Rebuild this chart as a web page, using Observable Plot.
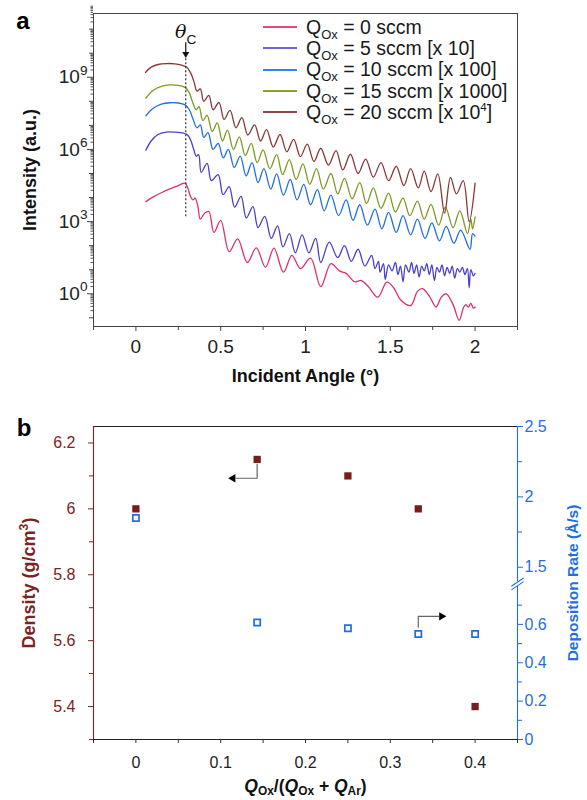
<!DOCTYPE html>
<html><head><meta charset="utf-8">
<script src="https://cdn.jsdelivr.net/npm/d3@7"></script>
<script src="https://cdn.jsdelivr.net/npm/@observablehq/plot@0.6"></script>
<style>
body{margin:0;background:#fff;font-family:Arial,"Liberation Sans",sans-serif;}
#wrap{position:relative;width:587px;height:800px;}
#legend{position:absolute;left:263px;top:16.6px;font-size:19.5px;color:#1a1a1a;}
.row{height:21px;display:flex;align-items:center;white-space:nowrap;margin-bottom:0.35px;}
.sw{width:34px;height:2px;margin-right:9px;flex:none;}
.row sub{font-size:13px;vertical-align:-5px;line-height:0}
.row sup{font-size:11.5px;vertical-align:8px;line-height:0}
svg{display:block}
</style></head><body>
<div id="wrap"><div id="a"></div><div id="legend"></div><div id="b"></div></div>
<script>
// ---------- Panel a data: [angle (deg), log10 intensity (a.u.)] ----------
const seriesNames = ["0 sccm", "5 sccm", "10 sccm", "15 sccm", "20 sccm"];
const legendLabels = ["Q<sub>Ox</sub> = 0 sccm", "Q<sub>Ox</sub> = 5 sccm [x 10]", "Q<sub>Ox</sub> = 10 sccm [x 100]", "Q<sub>Ox</sub> = 15 sccm [x 1000]", "Q<sub>Ox</sub> = 20 sccm [x 10<sup>4</sup>]"];
const seriesColors = ["#e0306a", "#4a3fcf", "#1f6fe0", "#7a9a22", "#8b3636"];
const legendColors = ["#e4487c", "#6c66dc", "#3a80e6", "#86a236", "#924545"];

const curveQ0 = [[0.059,3.83],[0.1,4.02],[0.15,4.2],[0.2,4.36],[0.25,4.5],[0.29,4.6],[0.305,4.42],[0.32,4.08],[0.335,3.9],[0.35,3.97],[0.365,3.65],[0.38,3.1],[0.405,3.35],[0.43,3.42],[0.46,2.55],[0.5,3.05],[0.55,1.75],[0.6,2.28],[0.657,1.3],[0.71,1.91],[0.764,1.1],[0.814,1.9],[0.87,0.9],[0.92,1.6],[0.97,1.05],[1.03,1.48],[1.09,0.3],[1.15,1.25],[1.2,0.95],[1.24,0.85],[1.29,0.5],[1.33,0.55],[1.37,0.3],[1.426,-0.14],[1.48,0.48],[1.52,0.25],[1.56,-0.25],[1.62,-0.49],[1.66,0.1],[1.69,0.21],[1.73,-0.1],[1.77,-0.55],[1.8,-0.15],[1.83,0.0],[1.87,-0.45],[1.906,-1.1],[1.93,-0.6],[1.945,-0.45],[1.96,-0.55],[1.975,-0.4],[1.99,-0.6],[2.0,-0.55]];

const curveQ5 = [[0.059,5.97],[0.09,6.35],[0.13,6.62],[0.18,6.72],[0.23,6.72],[0.28,6.68],[0.305,6.6],[0.325,6.35],[0.342,5.98],[0.355,5.72],[0.37,5.78],[0.385,5.05],[0.42,5.42],[0.445,4.7],[0.485,4.95],[0.514,4.12],[0.55,4.45],[0.582,3.6],[0.62,4.05],[0.651,3.15],[0.69,3.62],[0.72,2.75],[0.76,3.22],[0.798,2.3],[0.835,2.82],[0.867,1.95],[0.905,2.5],[0.94,1.7],[0.98,2.45],[1.02,1.7],[1.06,2.3],[1.09,1.3],[1.14,2.15],[1.19,1.5],[1.23,2.0],[1.27,1.35],[1.31,1.85],[1.35,1.15],[1.39,1.6],[1.41,1.05],[1.43,1.35],[1.44,0.9],[1.46,1.25],[1.47,0.6],[1.49,1.2],[1.51,0.95],[1.53,1.3],[1.545,0.8],[1.56,1.15],[1.575,0.5],[1.59,1.2],[1.61,0.9],[1.625,1.3],[1.64,0.85],[1.655,1.2],[1.67,0.7],[1.685,1.15],[1.7,0.95],[1.715,1.25],[1.73,0.8],[1.745,1.2],[1.76,0.55],[1.775,1.1],[1.79,0.9],[1.805,1.2],[1.82,0.75],[1.835,1.1],[1.85,0.85],[1.865,1.15],[1.88,0.65],[1.895,1.05],[1.91,0.9],[1.925,1.1],[1.94,0.8],[1.955,1.05],[1.965,0.25],[1.975,1.0],[1.99,0.75],[2.0,0.85]];

const curveQ10 = [[0.059,7.4],[0.1,7.7],[0.15,7.88],[0.2,7.94],[0.25,7.93],[0.29,7.85],[0.315,7.65],[0.335,7.3],[0.36,6.9],[0.38,7.02],[0.4,6.5],[0.425,6.7],[0.455,6.0],[0.485,6.25],[0.515,5.65],[0.545,6.0],[0.58,5.25],[0.615,5.72],[0.65,4.9],[0.685,5.45],[0.72,4.62],[0.755,5.2],[0.795,4.35],[0.83,4.98],[0.87,4.1],[0.91,4.75],[0.95,3.9],[0.99,4.55],[1.03,3.7],[1.07,4.33],[1.11,3.45],[1.15,4.1],[1.195,3.25],[1.24,3.9],[1.28,3.05],[1.32,3.7],[1.365,2.85],[1.41,3.52],[1.45,2.7],[1.49,3.38],[1.535,2.55],[1.575,3.25],[1.62,2.45],[1.66,3.1],[1.705,2.3],[1.745,2.95],[1.79,2.2],[1.83,2.8],[1.875,2.1],[1.915,2.65],[1.97,1.85],[1.985,2.5],[2.0,2.4]];

const curveQ15 = [[0.059,8.13],[0.1,8.45],[0.15,8.62],[0.2,8.68],[0.25,8.66],[0.29,8.58],[0.315,8.35],[0.335,7.95],[0.355,7.65],[0.372,7.78],[0.395,7.2],[0.42,7.42],[0.45,6.75],[0.48,7.1],[0.51,6.35],[0.54,6.8],[0.575,6.0],[0.61,6.52],[0.645,5.75],[0.68,6.25],[0.715,5.45],[0.75,5.98],[0.79,5.2],[0.83,5.78],[0.865,4.95],[0.905,5.58],[0.945,4.75],[0.985,5.4],[1.025,4.55],[1.065,5.2],[1.105,4.35],[1.15,5.0],[1.19,4.15],[1.23,4.8],[1.275,3.95],[1.32,4.62],[1.36,3.75],[1.4,4.4],[1.445,3.55],[1.49,4.18],[1.53,3.4],[1.575,3.98],[1.615,3.25],[1.66,3.85],[1.7,3.1],[1.74,3.72],[1.785,2.85],[1.825,3.6],[1.87,2.75],[1.91,3.45],[1.955,2.5],[1.975,3.1],[1.985,2.7],[2.0,3.2]];

const curveQ20 = [[0.057,9.2],[0.09,9.42],[0.13,9.53],[0.18,9.57],[0.23,9.56],[0.27,9.5],[0.3,9.42],[0.325,9.15],[0.345,8.75],[0.36,8.42],[0.38,8.52],[0.4,8.0],[0.43,8.25],[0.455,7.65],[0.49,7.95],[0.52,7.25],[0.555,7.62],[0.59,6.9],[0.625,7.32],[0.66,6.6],[0.7,7.02],[0.735,6.35],[0.77,6.82],[0.81,6.1],[0.85,6.62],[0.89,5.9],[0.93,6.42],[0.97,5.7],[1.01,6.22],[1.05,5.5],[1.09,6.05],[1.135,5.35],[1.18,5.95],[1.22,5.15],[1.265,5.8],[1.31,5.0],[1.355,5.6],[1.4,4.85],[1.445,5.45],[1.49,4.7],[1.535,5.3],[1.58,4.5],[1.62,5.2],[1.665,4.4],[1.7,5.1],[1.74,4.25],[1.78,4.98],[1.82,3.35],[1.855,4.84],[1.89,4.15],[1.93,4.7],[1.965,3.0],[2.0,4.6]];

const curvesA = [curveQ0, curveQ5, curveQ10, curveQ15, curveQ20];

// Axes of panel a
const xDomainA = [-0.25, 2.25];
const yLogDomainA = [-1.36, 11.65];
const xTicksA = [0, 0.5, 1, 1.5, 2];
const xTickLabelsA = ["0", "0.5", "1", "1.5", "2"];
const xMinorA = [-0.25, 0.25, 0.75, 1.25, 1.75, 2.25];
const yMajorExpA = [0, 3, 6, 9];
const yDecadesA = [-1, 0, 1, 2, 3, 4, 5, 6, 7, 8, 9, 10, 11];
// Critical angle annotation
const thetaC = 0.294;
const thetaCLineLog = [3.2, 9.95];
const thetaCArrowLog = [10.45, 10.05];
const thetaCLabelLog = 10.88;

// ---------- Panel b data ----------
const oxFraction = [0, 0.143, 0.25, 0.333, 0.4];
const density = [6.0, 6.15, 6.1, 6.0, 5.4];
const depositionRate = [1.85, 0.61, 0.58, 0.55, 0.55];

const xDomainB = [-0.05, 0.45];
const yDomainB = [5.3, 6.25];
const xTicksB = [0, 0.1, 0.2, 0.3, 0.4];
const xTickLabelsB = ["0", "0.1", "0.2", "0.3", "0.4"];
const xMinorB = [-0.05, 0.05, 0.15, 0.25, 0.35, 0.45];
const yTicksB = [5.4, 5.6, 5.8, 6.0, 6.2];
const yTickLabelsB = ["5.4", "5.6", "5.8", "6", "6.2"];
const yMinorB = [5.3, 5.5, 5.7, 5.9, 6.1];
const rateTicks = [0, 0.2, 0.4, 0.6, 1.5, 2, 2.5];
const rateTickLabels = ["0", "0.2", "0.4", "0.6", "1.5", "2", "2.5"];
const rateMinor = [0.1, 0.3, 0.5, 0.7, 1.75, 2.25];
// broken right axis: lower segment 0..0.8, upper segment 1.4..2.5
const rateLowerSlope = 0.613;   // fraction of axis height per Å/s
const rateUpperAt15 = 0.5504;   // fraction where 1.5 Å/s sits
const rateUpperSlope = 0.4496;
const rateBreakFrac = 0.497;
// arrows (x, value on its own axis)
const densityArrow = [[0.143, 6.135], [0.143, 6.093], [0.118, 6.093]];
const densityArrowHead = [0.1145, 6.093];
const rateArrow = [[0.333, 0.585], [0.333, 0.642], [0.357, 0.642]];
const rateArrowHead = [0.3605, 0.642];

const FONT = "Arial, 'Liberation Sans', sans-serif";
const DARK = "#222";
const BROWN = "#7b2424";
const BLUE = "#1f6fe0";

// ---------- helpers ----------
function richify(root, subShift = 0.25, supShift = 0.42, small = 0.7) {
  root.querySelectorAll("text").forEach(t => {
    const s = t.textContent;
    if (!/[_^]\{|\*/.test(s)) return;
    const fs = parseFloat(getComputedStyle(t).fontSize) || 16;
    while (t.firstChild) t.removeChild(t.firstChild);
    const re = /_\{([^}]*)\}|\^\{([^}]*)\}|\*([^*]*)\*|([^_^*]+)/g;
    let m, shift = 0;
    while ((m = re.exec(s))) {
      const sp = document.createElementNS("http://www.w3.org/2000/svg", "tspan");
      let target = 0, txt, isSmall = false, italic = false;
      if (m[1] !== undefined) { txt = m[1]; target = subShift * fs; isSmall = true; }
      else if (m[2] !== undefined) { txt = m[2]; target = -supShift * fs; isSmall = true; }
      else if (m[3] !== undefined) { txt = m[3]; italic = true; }
      else txt = m[4];
      sp.textContent = txt;
      if (target !== shift) { sp.setAttribute("dy", target - shift); shift = target; }
      if (isSmall) sp.setAttribute("font-size", (small * fs) + "px");
      if (italic) sp.setAttribute("font-style", "italic");
      t.appendChild(sp);
    }
  });
}

// ---------- Panel a ----------
const rowsA = [];
curvesA.forEach((c, i) => c.forEach(p => rowsA.push({series: seriesNames[i], angle: p[0], intensity: Math.pow(10, p[1])})));
const yMinorA = [];
yDecadesA.forEach(k => { for (let j = 2; j <= 9; j++) yMinorA.push(j * Math.pow(10, k)); });
const yMidA = yDecadesA.filter(k => !yMajorExpA.includes(k)).map(k => Math.pow(10, k));
const yMajorA = yMajorExpA.map(k => Math.pow(10, k));
const xLabA = new Map(xTicksA.map((v, i) => [v, xTickLabelsA[i]]));

const plotA = Plot.plot({
  width: 587, height: 395,
  marginLeft: 93, marginRight: 70, marginTop: 13, marginBottom: 69,
  style: {fontFamily: FONT, fontSize: "19px", color: DARK, background: "#fff"},
  x: {domain: xDomainA},
  y: {type: "log", domain: yLogDomainA.map(v => Math.pow(10, v))},
  color: {domain: seriesNames, range: seriesColors},
  marks: [
    Plot.axisX({ticks: xMinorA, tickSize: 4, tickFormat: () => "", label: null, stroke: "#444"}),
    Plot.axisX({ticks: xTicksA, tickSize: 5, tickPadding: 8, tickFormat: d => xLabA.get(d), label: null, fontSize: 19, stroke: "#444", fill: DARK}),
    Plot.axisY({ticks: yMinorA, tickSize: 2.5, tickFormat: () => "", label: null, stroke: "#555"}),
    Plot.axisY({ticks: yMidA, tickSize: 4, tickFormat: () => "", label: null, stroke: "#444"}),
    Plot.axisY({ticks: yMajorA, tickSize: 6, tickPadding: 0, tickFormat: d => "10^{" + Math.round(Math.log10(d)) + "}", label: null, fontSize: 19, stroke: "#444", fill: DARK}),
    Plot.frame({stroke: "#444"}),
    Plot.line(rowsA, {x: "angle", y: "intensity", z: "series", stroke: "series", curve: "catmull-rom", strokeWidth: 1.3}),
    Plot.ruleX([thetaC], {y1: Math.pow(10, thetaCLineLog[0]), y2: Math.pow(10, thetaCLineLog[1]), stroke: "#333", strokeDasharray: "2,2", strokeWidth: 1.2}),
    Plot.link([thetaC], {x1: d => d, x2: d => d, y1: Math.pow(10, thetaCArrowLog[0]), y2: Math.pow(10, thetaCArrowLog[1]), stroke: "#111", strokeWidth: 1.2}),
    Plot.dot([thetaC], {x: d => d, y: Math.pow(10, thetaCArrowLog[1] - 0.08), symbol: "triangle", rotate: 180, r: 2.6, fill: "#111", stroke: "none"}),
    Plot.text(["*θ*_{C}"], {x: thetaC, y: Math.pow(10, thetaCLabelLog), text: d => d, fontSize: 19, fill: "#111", fontFamily: "'DejaVu Serif', 'Liberation Serif', serif"}),
    Plot.text(["Intensity (a.u.)"], {frameAnchor: "left", dx: -63, rotate: -90, textAnchor: "middle", lineAnchor: "middle", text: d => d, fontSize: 18, fontWeight: "bold", fill: "#111"}),
    Plot.text(["Incident Angle (°)"], {frameAnchor: "bottom", dy: 50, textAnchor: "middle", lineAnchor: "middle", text: d => d, fontSize: 18, fontWeight: "bold", fill: "#111"}),
    Plot.text(["a"], {frameAnchor: "top-left", dx: -70.5, dy: 7.5, textAnchor: "middle", lineAnchor: "middle", text: d => d, fontSize: 24, fontWeight: "bold", fill: "#000"})
  ]
});
document.getElementById("a").appendChild(plotA);
richify(plotA, 0.3, 0.45, 0.72);
// the theta label: keep the C subscript upright sans
plotA.querySelectorAll("tspan").forEach(sp => { if (sp.textContent === "C") sp.setAttribute("font-family", FONT); });

// legend
const leg = document.getElementById("legend");
legendLabels.forEach((lab, i) => {
  const r = document.createElement("div");
  r.className = "row";
  r.innerHTML = `<span class="sw" style="background:${legendColors[i]}"></span><span>${lab}</span>`;
  leg.appendChild(r);
});

// ---------- Panel b ----------
const rateFrac = r => r <= 1 ? rateLowerSlope * r : rateUpperAt15 + rateUpperSlope * (r - 1.5);
const rateToY = r => yDomainB[0] + rateFrac(r) * (yDomainB[1] - yDomainB[0]);
const breakY = yDomainB[0] + rateBreakFrac * (yDomainB[1] - yDomainB[0]);
const rowsB = oxFraction.map((x, i) => ({x, density: density[i], rate: depositionRate[i]}));
const xLabB = new Map(xTicksB.map((v, i) => [v, xTickLabelsB[i]]));
const yLabB = new Map(yTicksB.map((v, i) => [v, yTickLabelsB[i]]));
const rateLab = new Map(rateTicks.map((v, i) => [rateToY(v), rateTickLabels[i]]));
const slashOffsets = [-0.0055, 0.0055];

const plotB = Plot.plot({
  width: 587, height: 405,
  marginLeft: 93, marginRight: 70, marginTop: 31, marginBottom: 61,
  style: {fontFamily: FONT, fontSize: "16px", color: DARK, background: "#fff"},
  x: {domain: xDomainB},
  y: {domain: yDomainB},
  marks: [
    Plot.axisX({ticks: xMinorB, tickSize: 4, tickFormat: () => "", label: null, stroke: "#333"}),
    Plot.axisX({ticks: xTicksB, tickSize: 4, tickPadding: 13, tickFormat: d => xLabB.get(d), label: null, fontSize: 16, stroke: "#333", fill: DARK}),
    Plot.axisY({ticks: yMinorB, tickSize: 4, tickFormat: () => "", label: null, stroke: BROWN}),
    Plot.axisY({ticks: yTicksB, tickSize: 5, tickPadding: 13, tickFormat: d => yLabB.get(d), label: null, fontSize: 16, stroke: BROWN, fill: BROWN}),
    Plot.axisY({anchor: "right", ticks: rateMinor.map(rateToY), tickSize: 4, tickFormat: () => "", label: null, stroke: BLUE}),
    Plot.axisY({anchor: "right", ticks: rateTicks.map(rateToY), tickSize: 5, tickPadding: 2, tickFormat: d => rateLab.get(d), label: null, fontSize: 16, stroke: BLUE, fill: BLUE}),
    Plot.ruleY([yDomainB[1]], {stroke: "#222", strokeWidth: 1.1}),
    Plot.ruleY([yDomainB[0]], {stroke: "#222", strokeWidth: 1.1}),
    Plot.ruleX([xDomainB[0]], {stroke: BROWN, strokeWidth: 1.1}),
    Plot.ruleX([xDomainB[1]], {y1: yDomainB[0], y2: breakY - 0.007, stroke: BLUE, strokeWidth: 1.1}),
    Plot.ruleX([xDomainB[1]], {y1: breakY + 0.007, y2: yDomainB[1], stroke: BLUE, strokeWidth: 1.1}),
    Plot.link(slashOffsets, {x1: xDomainB[1] - 0.0072, x2: xDomainB[1] + 0.0072, y1: o => breakY + o - 0.0125, y2: o => breakY + o + 0.0125, stroke: BLUE, strokeWidth: 1.1}),
    Plot.line(densityArrow, {x: "0", y: "1", stroke: "#666", strokeWidth: 1.2}),
    Plot.dot([densityArrowHead], {x: "0", y: "1", symbol: "triangle", rotate: -90, r: 3.1, fill: "#000", stroke: "none"}),
    Plot.line(rateArrow, {x: "0", y: d => rateToY(d[1]), stroke: "#666", strokeWidth: 1.2}),
    Plot.dot([rateArrowHead], {x: "0", y: d => rateToY(d[1]), symbol: "triangle", rotate: 90, r: 3.1, fill: "#000", stroke: "none"}),
    Plot.dot(rowsB, {x: "x", y: d => rateToY(d.rate), symbol: "square", r: 3.5, fill: "#fff", stroke: BLUE, strokeWidth: 1.7}),
    Plot.dot(rowsB, {x: "x", y: "density", symbol: "square", r: 4.1, fill: "#7a1c1c", stroke: "none"}),
    Plot.text(["Density (g/cm^{3})"], {frameAnchor: "left", dx: -64, rotate: -90, textAnchor: "middle", lineAnchor: "middle", text: d => d, fontSize: 18, fontWeight: "bold", fill: BROWN}),
    Plot.text(["Deposition Rate (Å/s)"], {frameAnchor: "right", dx: 56, rotate: -90, textAnchor: "middle", lineAnchor: "middle", text: d => d, fontSize: 15.5, fontWeight: "bold", fill: BLUE}),
    Plot.text(["*Q*_{Ox}/(*Q*_{Ox} + *Q*_{Ar})"], {frameAnchor: "bottom", dy: 46.5, textAnchor: "middle", lineAnchor: "middle", text: d => d, fontSize: 17.5, fontWeight: "bold", fill: "#111"}),
    Plot.text(["b"], {frameAnchor: "top-left", dx: -69.5, dy: 1.5, textAnchor: "middle", lineAnchor: "middle", text: d => d, fontSize: 24, fontWeight: "bold", fill: "#000"})
  ]
});
document.getElementById("b").appendChild(plotB);
richify(plotB, 0.22, 0.42, 0.68);
</script></body></html>
